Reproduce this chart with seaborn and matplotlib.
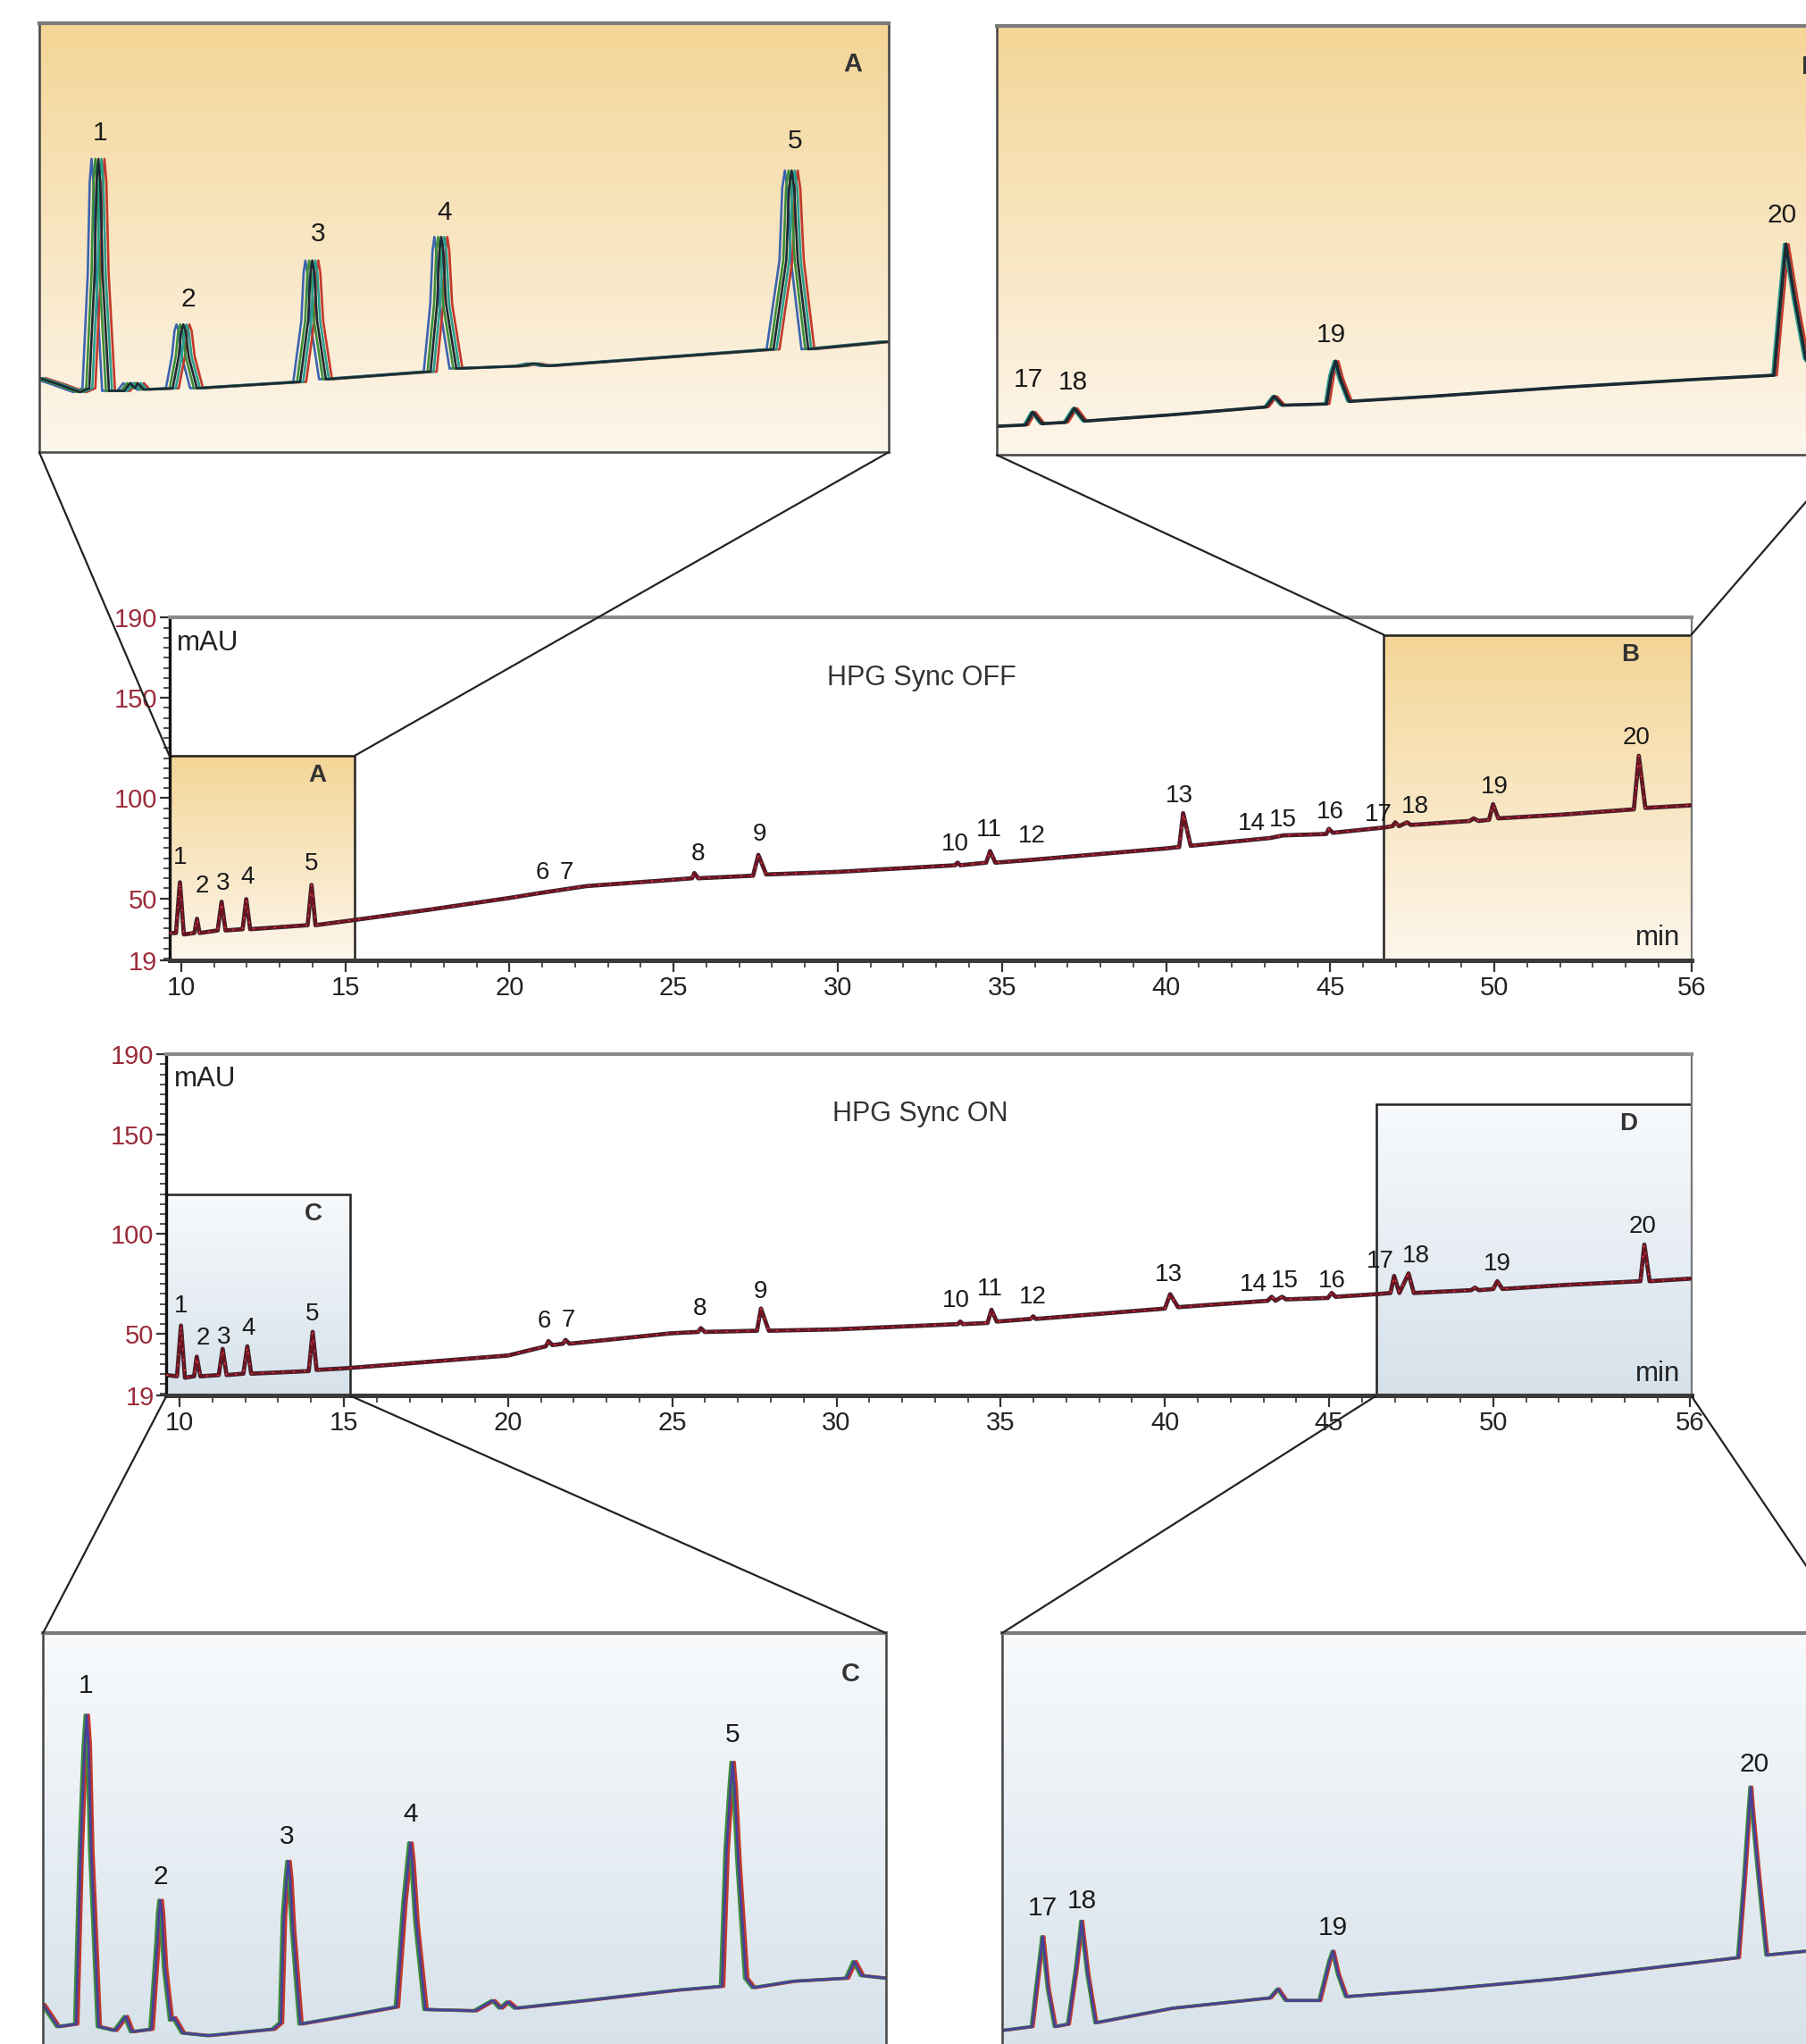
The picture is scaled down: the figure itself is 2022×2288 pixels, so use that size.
import numpy as np
import matplotlib.pyplot as plt
import seaborn as sns
from matplotlib.colors import LinearSegmentedColormap
from matplotlib.patches import Rectangle, ConnectionPatch
from matplotlib.ticker import MultipleLocator

sns.set_theme(style="white")
plt.rcParams['font.family'] = ['Liberation Sans', 'DejaVu Sans']

# ----------------------------
# Main chromatogram, HPG Sync OFF (min, mAU)
# ----------------------------
off_t = [9.64, 9.84, 9.96, 10.08, 10.40, 10.48, 10.56, 11.11, 11.23, 11.35, 11.87, 11.98, 12.10,
         13.85, 13.97, 14.09, 15.28, 17.58, 20.0, 20.99, 22.34, 25.0, 25.56, 25.63, 25.75,
         27.42, 27.58, 27.82, 30.0, 33.57, 33.65, 33.73, 34.52, 34.64, 34.80, 35.83, 40.0,
         40.40, 40.52, 40.75, 43.17, 43.57, 44.88, 44.96, 45.08, 46.63, 46.90, 46.98, 47.10,
         47.34, 47.46, 49.25, 49.37, 49.52, 49.84, 49.96, 50.12, 52.10, 54.25, 54.40, 54.60, 56.0]
off_v = [32.7, 32.7, 58.0, 32.0, 32.7, 39.8, 32.7, 34.0, 48.3, 34.0, 34.6, 49.6, 34.6,
         36.6, 56.7, 36.6, 39.2, 44.4, 50.2, 52.8, 56.1, 59.3, 60.0, 62.6, 60.0,
         61.3, 71.7, 61.9, 63.2, 66.5, 67.8, 66.5, 67.8, 73.6, 67.8, 69.1, 74.9,
         75.6, 92.5, 76.2, 80.1, 81.4, 82.1, 84.7, 82.7, 85.3, 86.0, 87.9, 86.0,
         87.9, 86.6, 88.6, 89.9, 88.6, 89.2, 97.0, 89.9, 91.8, 94.4, 121.1, 95.1, 96.4]

# ----------------------------
# Main chromatogram, HPG Sync ON
# ----------------------------
on_t = [9.60, 9.92, 10.04, 10.16, 10.44, 10.52, 10.63, 11.19, 11.31, 11.43, 11.94, 12.06, 12.18,
        13.93, 14.05, 14.17, 14.96, 16.47, 20.0, 21.15, 21.23, 21.35, 21.67, 21.75, 21.87,
        24.96, 25.79, 25.87, 25.99, 27.58, 27.70, 27.94, 30.0, 33.69, 33.77, 33.85, 34.60,
        34.72, 34.88, 35.91, 35.99, 36.07, 40.0, 40.16, 40.40, 43.13, 43.25, 43.37, 43.57,
        43.69, 44.96, 45.08, 45.20, 46.43, 46.87, 46.98, 47.14, 47.42, 47.58, 49.33, 49.44,
        49.56, 50.0, 50.12, 50.28, 52.18, 54.48, 54.60, 54.76, 56.03]
on_v = [29.4, 28.8, 54.2, 28.1, 28.8, 38.6, 28.8, 29.4, 42.5, 29.4, 30.1, 43.8, 30.1,
        31.4, 51.0, 32.0, 32.7, 34.6, 39.2, 43.8, 46.4, 44.4, 45.1, 47.0, 45.1,
        50.3, 51.0, 52.9, 51.0, 51.6, 62.7, 51.6, 52.3, 54.9, 56.2, 54.9, 55.5,
        62.1, 56.2, 57.5, 58.8, 57.5, 62.7, 69.9, 63.4, 66.6, 68.6, 66.6, 68.6,
        67.3, 68.0, 70.5, 68.6, 69.9, 70.5, 79.0, 70.5, 80.3, 70.5, 71.9, 73.2,
        71.9, 72.5, 76.4, 72.5, 74.5, 76.4, 94.7, 76.4, 77.7]

peak_names = [str(i) for i in range(1, 21)]
off_lab_t = [9.96, 10.63, 11.27, 12.02, 13.97, 20.99, 21.75, 25.75, 27.62, 33.57,
             34.60, 35.91, 40.40, 42.62, 43.57, 45.00, 46.47, 47.58, 50.00, 54.33]
off_lab_v = [70.4, 56.1, 57.4, 60.6, 67.1, 62.6, 62.6, 72.3, 82.1, 76.9,
             84.0, 80.8, 100.9, 87.3, 89.2, 93.1, 91.8, 95.7, 105.5, 130.2]
on_lab_t = [10.04, 10.71, 11.35, 12.10, 14.05, 21.11, 21.83, 25.83, 27.70, 33.65,
            34.68, 35.99, 40.12, 42.70, 43.65, 45.08, 46.55, 47.66, 50.12, 54.56]
on_lab_v = [64.0, 47.7, 48.4, 52.9, 60.1, 56.2, 56.8, 62.7, 71.2, 66.6,
            72.5, 68.6, 79.7, 74.5, 76.4, 76.4, 86.2, 88.8, 84.9, 103.8]

# ----------------------------
# Zoomed windows (relative signal, 0-100)
# ----------------------------
a_t = [9.60, 9.73, 9.87, 9.93, 9.965, 9.978, 9.99, 10.003, 10.018, 10.06, 10.16, 10.20, 10.23,
       10.25, 10.29, 10.48, 10.52, 10.537, 10.55, 10.565, 10.585, 10.64, 11.32, 11.373, 11.388,
       11.40, 11.413, 11.432, 11.49, 12.18, 12.223, 12.238, 12.25, 12.263, 12.282, 12.35, 12.78,
       12.86, 12.95, 13.64, 14.44, 14.525, 14.543, 14.56, 14.577, 14.60, 14.67, 15.20]
a_v = [17.3, 15.8, 14.0, 14.9, 41.5, 63.0, 68.4, 63.0, 41.5, 14.3, 14.3, 16.1, 14.9,
       16.1, 14.6, 14.9, 22.3, 28.3, 29.8, 28.3, 22.3, 14.9, 16.4, 30.6, 41.9,
       44.7, 41.9, 30.6, 17.0, 18.8, 34.6, 47.0, 50.2, 47.0, 34.6, 19.5, 20.1,
       20.7, 20.1, 21.9, 24.0, 44.8, 61.5, 65.7, 61.5, 44.8, 24.0, 25.8]
a_shift = [-0.045, 0.04, -0.02, 0.02, 0.0]
a_colors = ['#3b64b0', '#c0392b', '#3c8d3c', '#2a9d8f', '#1c2a33']

b_t = [46.60, 46.92, 47.00, 47.10, 47.36, 47.46, 47.57, 48.55, 49.58, 49.67, 49.76, 50.25,
       50.30, 50.35, 50.40, 50.50, 51.43, 52.87, 54.31, 55.20, 55.26, 55.33, 55.43, 55.55,
       55.66, 56.0]
b_v = [6.7, 7.0, 10.0, 7.3, 7.6, 10.9, 7.9, 9.4, 11.2, 13.7, 11.6, 11.9,
       18.5, 21.9, 17.9, 12.5, 13.7, 15.8, 17.6, 18.6, 33.1, 49.2, 36.2, 22.5,
       19.5, 20.1]
b_shift = [0.03, -0.02, 0.0]
b_colors = ['#c0392b', '#2a9d8f', '#1c2a33']

c_t = [9.60, 9.70, 9.82, 9.85, 9.877, 9.89, 9.903, 9.92, 9.97, 10.08, 10.15, 10.19, 10.32,
       10.36, 10.37, 10.38, 10.39, 10.41, 10.45, 10.47, 10.53, 10.70, 11.13, 11.18, 11.20,
       11.218, 11.23, 11.242, 11.26, 11.31, 11.56, 11.95, 12.00, 12.028, 12.04, 12.053, 12.08,
       12.14, 12.47, 12.59, 12.64, 12.69, 12.74, 13.21, 13.81, 14.11, 14.14, 14.167, 14.18,
       14.194, 14.22, 14.27, 14.32, 14.59, 14.94, 14.99, 15.04, 15.20]
c_v = [13.4, 8.2, 8.8, 49.2, 74.0, 80.9, 74.0, 49.2, 8.2, 7.3, 10.6, 7.0, 7.6,
       28.0, 34.5, 37.7, 34.5, 21.9, 9.7, 10.3, 6.7, 6.1, 7.6, 9.1, 34.0,
       42.7, 46.8, 42.7, 31.0, 8.8, 10.3, 12.8, 37.1, 46.9, 51.1, 46.9, 32.5,
       12.2, 11.9, 14.3, 12.5, 14.0, 12.5, 14.3, 16.7, 17.6, 49.2, 64.0, 69.9,
       64.0, 46.2, 19.5, 17.3, 18.8, 19.5, 23.4, 20.1, 19.5]

d_t = [46.40, 46.74, 46.80, 46.845, 46.86, 46.875, 46.92, 47.00, 47.15, 47.24, 47.285, 47.30,
       47.315, 47.37, 47.46, 48.33, 49.43, 49.52, 49.61, 49.99, 50.10, 50.14, 50.20, 50.29,
       51.27, 52.75, 54.72, 54.79, 54.84, 54.86, 54.88, 54.95, 55.04, 55.48, 56.0]
d_v = [7.3, 8.2, 18.8, 26.5, 29.2, 26.5, 17.3, 8.2, 8.8, 21.9, 30.0, 32.8,
       30.0, 20.4, 9.1, 12.5, 14.9, 17.0, 14.3, 14.3, 23.4, 25.8, 20.4, 15.2,
       16.7, 19.5, 24.3, 43.2, 58.5, 64.1, 58.5, 43.2, 24.9, 25.8, 26.5]
cd_shift = [0.012, -0.01, 0.0]
cd_colors = ['#c0392b', '#3c8d3c', '#4a3f99']

a_lab_t = [10.0, 10.58, 11.44, 12.27, 14.58]
a_lab_v = [74.5, 35.6, 50.8, 55.9, 72.6]
b_lab_t = [46.95, 47.44, 50.30, 55.29]
b_lab_v = [17.6, 17.0, 28.0, 55.9]
c_lab_t = [9.886, 10.38, 11.22, 12.04, 14.18]
c_lab_v = [87.8, 43.2, 52.6, 57.8, 76.3]
d_lab_t = [46.86, 47.30, 50.14, 54.90]
d_lab_v = [35.9, 37.4, 31.3, 69.3]
window_names = ['1', '2', '3', '4', '5']
late_names = ['17', '18', '19', '20']

x_major = [10, 15, 20, 25, 30, 35, 40, 45, 50, 56]
y_major = [19, 50, 100, 150, 190]

# windows in the main plots (t0, t1, top)
win_a = (9.64, 15.28, 121.1)
win_b = (46.63, 56.0, 181.5)
win_c = (9.60, 15.20, 120.0)
win_d = (46.43, 56.03, 165.0)

ORANGE = ('#f4d596', '#fdf6ec')
BLUE = ('#f8fafc', '#d6e1ea')
TRACE = '#6e1423'


def gradient(ax, colors, extent=(0, 1, 0, 1), transform=None, z=0):
    cmap = LinearSegmentedColormap.from_list('g', list(colors))
    grad = np.linspace(0, 1, 256)[:, None]
    kw = {} if transform is None else {'transform': transform}
    ax.imshow(grad, cmap=cmap, aspect='auto', extent=extent, origin='upper',
              zorder=z, interpolation='bilinear', **kw)


def main_panel(ax, t, v, lab_t, lab_v, title, wins):
    for (t0, t1, top), cols, letter in wins:
        gradient(ax, cols, extent=(t0, t1, 19, top), z=0.5)
        ax.add_patch(Rectangle((t0, 19), t1 - t0, top - 19, fill=False,
                               ec='#222', lw=1.8, zorder=1))
        ax.text(t1 - (t1 - t0) * 0.2, top - 10, letter, fontsize=20, fontweight='bold',
                color='#333', ha='center', va='center', zorder=4)
    sns.lineplot(x=t, y=v, ax=ax, color='#2b2b33', lw=3.4, estimator=None, sort=False, zorder=2)
    sns.lineplot(x=t, y=v, ax=ax, color=TRACE, lw=2.4, estimator=None, sort=False, zorder=3)
    sns.lineplot(x=t, y=v, ax=ax, color='#e8403a', lw=1.0, estimator=None, sort=False,
                 zorder=3).lines[-1].set_dashes((1.5, 7))
    for name, x, y in zip(peak_names, lab_t, lab_v):
        ax.text(x, y, name, fontsize=20, ha='center', va='center', color='#1a1a1a', zorder=5)
    ax.set_xlim(t[0], t[-1])
    ax.set_ylim(19, 190)
    ax.set_xticks(x_major)
    ax.set_xticklabels([str(x) for x in x_major])
    ax.xaxis.set_minor_locator(MultipleLocator(1))
    ax.set_yticks(y_major)
    ax.set_yticklabels([str(y) for y in y_major])
    ax.yaxis.set_minor_locator(MultipleLocator(5))
    ax.tick_params(axis='x', which='major', length=9, width=1.6, colors='#333',
                   labelsize=21, labelcolor='#222', direction='out', bottom=True, pad=3)
    ax.tick_params(axis='x', which='minor', length=6, width=1.2, colors='#333', bottom=True)
    ax.tick_params(axis='y', which='major', length=8, width=1.6, colors='#333',
                   labelsize=21, labelcolor='#9b2c3a', direction='out', left=True, pad=2)
    ax.tick_params(axis='y', which='minor', length=5, width=1.2, colors='#333', left=True)
    ax.spines['top'].set(color='#8a8a8a', lw=3.0)
    ax.spines['bottom'].set(color='#3a3a3a', lw=3.6)
    ax.spines['left'].set(color='#111', lw=2.4)
    ax.spines['right'].set(color='#777', lw=1.6)
    ax.set_xlabel('')
    ax.set_ylabel('')
    ax.text(0.005, 0.926, 'mAU', transform=ax.transAxes, fontsize=22.5, ha='left', va='center', color='#222')
    ax.text(0.494, 0.825, title, transform=ax.transAxes, fontsize=22, ha='center', va='center', color='#333')
    ax.text(0.993, 0.065, 'min', transform=ax.transAxes, fontsize=22.5, ha='right', va='center', color='#222')


def zoom_panel(ax, t, v, shifts, colors, widths, lab_t, lab_v, names, letter, cols, xlim):
    gradient(ax, cols, transform=ax.transAxes)
    for s, c, w in zip(shifts, colors, widths):
        sns.lineplot(x=[x + s for x in t], y=v, ax=ax, color=c, lw=w,
                     estimator=None, sort=False, zorder=2)
    for name, x, y in zip(names, lab_t, lab_v):
        ax.text(x, y, name, fontsize=21.5, ha='center', va='center', color='#1a1a1a', zorder=5)
    ax.text(0.958, 0.905, letter, transform=ax.transAxes, fontsize=21, fontweight='bold',
            ha='center', va='center', color='#333')
    ax.set_xlim(*xlim)
    ax.set_ylim(0, 100)
    ax.set_xticks([])
    ax.set_yticks([])
    ax.set_xlabel('')
    ax.set_ylabel('')
    for side in ['left', 'right', 'bottom']:
        ax.spines[side].set(color='#444', lw=1.8)
    ax.spines['top'].set(color='#7a7a7a', lw=3.0)


fig = plt.figure(figsize=(20.22, 22.88), dpi=100)
ax_off = fig.add_axes([0.0938, 0.5301, 0.8427, 0.1677])
ax_on = fig.add_axes([0.0922, 0.3171, 0.8443, 0.1671])
ax_a = fig.add_axes([0.0217, 0.7788, 0.4704, 0.2097])
ax_b = fig.add_axes([0.5519, 0.7774, 0.4705, 0.2098])
ax_c = fig.add_axes([0.0238, -0.0087, 0.4668, 0.2097])
ax_d = fig.add_axes([0.5548, -0.0087, 0.4705, 0.2097])

main_panel(ax_off, off_t, off_v, off_lab_t, off_lab_v, 'HPG Sync OFF',
           [(win_a, ORANGE, 'A'), (win_b, ORANGE, 'B')])
main_panel(ax_on, on_t, on_v, on_lab_t, on_lab_v, 'HPG Sync ON',
           [(win_c, BLUE, 'C'), (win_d, BLUE, 'D')])

zoom_panel(ax_a, a_t, a_v, a_shift, a_colors, [1.9] * 5, a_lab_t, a_lab_v,
           window_names, 'A', ORANGE, (9.6, 15.2))
zoom_panel(ax_b, b_t, b_v, b_shift, b_colors, [1.8, 2.0, 2.6], b_lab_t, b_lab_v,
           late_names, 'B', ORANGE, (46.6, 56.0))
zoom_panel(ax_c, c_t, c_v, cd_shift, cd_colors, [2.6, 2.6, 2.0], c_lab_t, c_lab_v,
           window_names, 'C', BLUE, (9.6, 15.2))
zoom_panel(ax_d, d_t, d_v, cd_shift, cd_colors, [2.6, 2.6, 2.0], d_lab_t, d_lab_v,
           late_names, 'D', BLUE, (46.4, 56.0))

# connector lines between windows and zoomed panels
links = [
    (ax_a, (0, 0), ax_off, (win_a[0], win_a[2])),
    (ax_a, (1, 0), ax_off, (win_a[1], win_a[2])),
    (ax_b, (0, 0), ax_off, (win_b[0], win_b[2])),
    (ax_b, (1, 0), ax_off, (win_b[1], win_b[2])),
    (ax_c, (0, 1), ax_on, (win_c[0], 19)),
    (ax_c, (1, 1), ax_on, (win_c[1], 19)),
    (ax_d, (0, 1), ax_on, (win_d[0], 19)),
    (ax_d, (1, 1), ax_on, (win_d[1], 19)),
]
for zax, corner, max_, pt in links:
    con = ConnectionPatch(xyA=corner, coordsA='axes fraction', axesA=zax,
                          xyB=pt, coordsB='data', axesB=max_, color='#222', lw=1.6)
    con.set_clip_on(False)
    fig.add_artist(con)

fig.savefig('out.png', dpi=100)
